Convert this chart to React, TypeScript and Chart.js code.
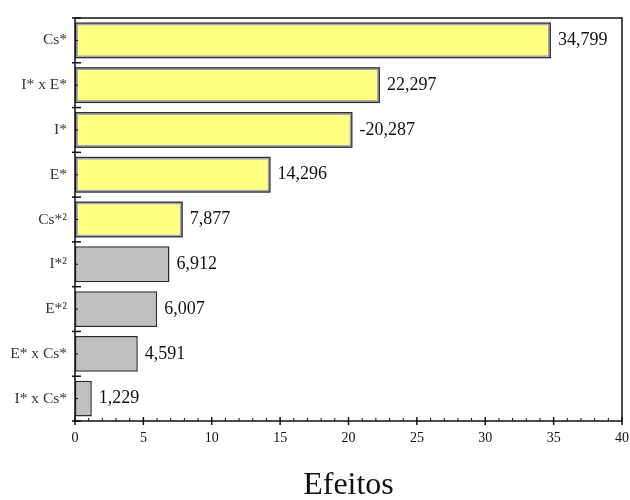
import React, { useEffect, useRef } from "react";
import { Chart, registerables } from "chart.js";

Chart.register(...registerables);

// Effect terms, top to bottom
const terms = ["Cs*", "I* x E*", "I*", "E*", "Cs*²", "I*²", "E*²", "E* x Cs*", "I* x Cs*"];
// Signed effect estimates
const effects = [34.799, 22.297, -20.287, 14.296, 7.877, 6.912, 6.007, 4.591, 1.229];
// Whether the term is statistically significant (highlighted)
const significant = [true, true, true, true, true, false, false, false, false];
const xTicks = [0, 5, 10, 15, 20, 25, 30, 35, 40];

const YELLOW = "#ffff80";
const GRAY = "#c0c0c0";
const DARK = "#2b2b2b";
const SERIF = "'Liberation Serif', 'Times New Roman', serif";

const fmt = (v: number) => v.toFixed(3).replace(".", ",");

const framePlugin = {
  id: "paretoFrame",
  afterDatasetsDraw(chart: any) {
    const ctx = chart.ctx as CanvasRenderingContext2D;
    const { left, right, top, bottom } = chart.chartArea;
    const xs = chart.scales.x;
    const ys = chart.scales.y;
    const meta = chart.getDatasetMeta(0);

    ctx.save();
    // outer dark outline on highlighted bars
    meta.data.forEach((bar: any, i: number) => {
      if (!significant[i]) return;
      const h = bar.height;
      ctx.strokeStyle = DARK;
      ctx.lineWidth = 1.2;
      ctx.strokeRect(bar.base + 0.6, bar.y - h / 2 + 0.6, bar.x - bar.base - 1.2, h - 1.2);
    });

    // value labels
    ctx.fillStyle = "#111";
    ctx.font = `18px ${SERIF}`;
    ctx.textAlign = "left";
    ctx.textBaseline = "middle";
    meta.data.forEach((bar: any, i: number) => {
      ctx.fillText(fmt(effects[i]), bar.x + 7, bar.y);
    });

    // frame
    ctx.strokeStyle = "#111";
    ctx.lineWidth = 1.5;
    ctx.strokeRect(left, top, right - left, bottom - top);

    // y axis ticks: major at category boundaries, minor at centres
    ctx.lineWidth = 1.5;
    const n = terms.length;
    for (let i = 0; i <= n; i++) {
      const y = ys.getPixelForValue(i - 0.5);
      ctx.beginPath();
      ctx.moveTo(left - 3, y);
      ctx.lineTo(left + 6, y);
      ctx.stroke();
    }
    ctx.lineWidth = 1;
    for (let i = 0; i < n; i++) {
      const y = ys.getPixelForValue(i);
      ctx.beginPath();
      ctx.moveTo(left, y);
      ctx.lineTo(left + 3, y);
      ctx.stroke();
    }

    // x axis ticks: major every 5, minor every 1
    const min = xs.min as number;
    const max = xs.max as number;
    for (let v = min; v <= max; v++) {
      const x = xs.getPixelForValue(v);
      const major = v % 5 === 0;
      ctx.lineWidth = major ? 1.5 : 1;
      ctx.beginPath();
      ctx.moveTo(x, major ? bottom + 4 : bottom);
      ctx.lineTo(x, major ? bottom - 4 : bottom - 3);
      ctx.stroke();
    }

    // axis title
    ctx.fillStyle = "#111";
    ctx.font = `32px ${SERIF}`;
    ctx.textAlign = "center";
    ctx.textBaseline = "middle";
    ctx.fillText("Efeitos", (left + right) / 2, 486);
    ctx.restore();
  },
};

export default function App() {
  const ref = useRef<HTMLCanvasElement | null>(null);

  useEffect(() => {
    document.body.style.margin = "0";
    const canvas = ref.current;
    if (!canvas) return;
    const chart = new Chart(canvas, {
      type: "bar",
      data: {
        labels: terms,
        datasets: [
          {
            data: effects.map((v) => Math.abs(v)),
            backgroundColor: significant.map((s) => (s ? YELLOW : GRAY)),
            borderColor: significant.map((s) => (s ? "#a8a8a8" : DARK)),
            borderWidth: significant.map((s) => (s ? 3 : 1.5)),
            borderSkipped: false,
            barPercentage: 0.8,
            categoryPercentage: 1,
          },
        ],
      },
      options: {
        indexAxis: "y",
        responsive: false,
        animation: false,
        layout: { padding: { top: 18, right: 2, left: 0, bottom: 0 } },
        plugins: {
          legend: { display: false },
          tooltip: { enabled: false },
        },
        scales: {
          x: {
            type: "linear",
            min: 0,
            max: 40,
            afterBuildTicks: (s: any) => {
              s.ticks = xTicks.map((v) => ({ value: v }));
            },
            afterFit: (s: any) => {
              s.height = 79;
            },
            grid: { display: false },
            border: { display: false },
            ticks: {
              padding: 1,
              color: "#111",
              font: { family: SERIF, size: 14 },
              maxRotation: 0,
            },
          },
          y: {
            type: "category",
            afterFit: (s: any) => {
              s.width = 75;
            },
            grid: { display: false },
            border: { display: false },
            ticks: {
              padding: 0,
              color: "#333",
              font: { family: SERIF, size: 15.5 },
            },
          },
        },
      },
      plugins: [framePlugin],
    } as any);
    return () => chart.destroy();
  }, []);

  return (
    <div style={{ position: "absolute", left: 0, top: 0, width: 630, height: 500, background: "#fff" }}>
      <canvas ref={ref} width={630} height={500} />
    </div>
  );
}
